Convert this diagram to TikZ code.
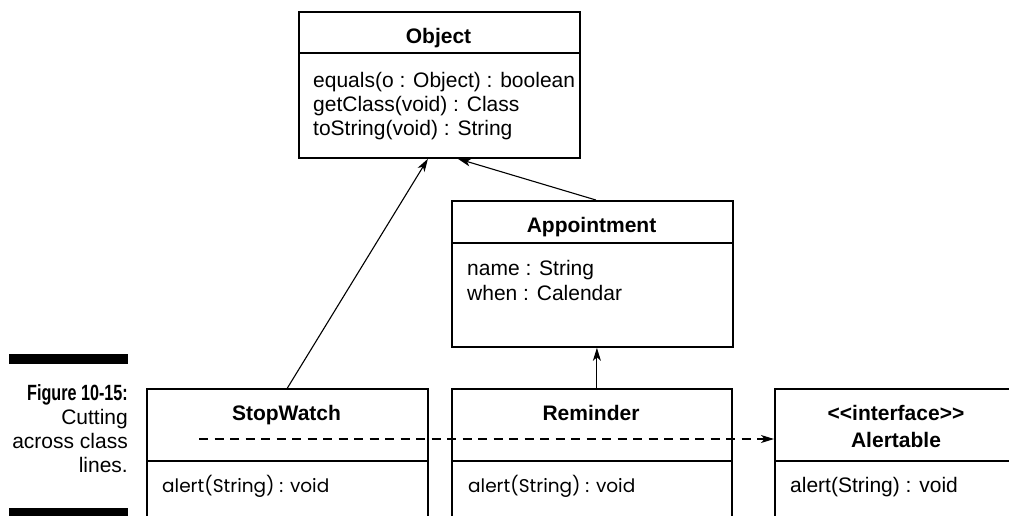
\documentclass[tikz,border=0pt]{standalone}
\usepackage{graphicx}
\usepackage{fontspec}
\setmainfont{Liberation Sans}[Ligatures=TeXOff]
\newfontfamily\handfont{Poppins}[Ligatures=TeXOff]
\usetikzlibrary{arrows.meta}
\begin{document}
\begin{tikzpicture}[x=1pt,y=-1pt,
  umlbox/.style={draw, line width=1.8pt, rectangle, anchor=north west, inner sep=0pt, minimum width=281pt},
  divider/.style={line width=1.6pt},
  title/.style={font=\bfseries\fontsize{21}{25}\selectfont, anchor=base, inner sep=0pt},
  member/.style={font=\fontsize{21}{25}\selectfont, anchor=base west, inner sep=0pt},
  hand/.style={font=\handfont\fontsize{18.5}{22}\selectfont, anchor=base west, inner sep=0pt},
  captxt/.style={font=\fontsize{21}{25}\selectfont, anchor=base east, inner sep=0pt},
  inherit/.style={-{Stealth[length=13pt,width=8pt,inset=3.5pt]}, line width=1.1pt},
  realize/.style={inherit, dash pattern=on 9pt off 6.5pt},
  capbar/.style={fill=black, draw=none}
]
\useasboundingbox (0,0) rectangle (1009,515);
\clip (0,0) rectangle (1009,515);

% boxes
\node[umlbox, minimum height=146pt] (obj) at (298,11) {};
\node[umlbox, minimum height=146pt] (app) at (451,200) {};
\node[umlbox, minimum height=170pt] (sw) at (146,388) {};
\node[umlbox, minimum width=280pt, minimum height=170pt] (rem) at (451,388) {};
\node[umlbox, minimum width=300pt, minimum height=170pt] (alt) at (774,388) {};

% dividers
\draw[divider] ([yshift=-42pt]obj.north west) -- ([yshift=-42pt]obj.north east);
\draw[divider] ([yshift=-43pt]app.north west) -- ([yshift=-43pt]app.north east);
\draw[divider] ([yshift=-73pt]sw.north west) -- ([yshift=-73pt]sw.north east);
\draw[divider] ([yshift=-73pt]rem.north west) -- ([yshift=-73pt]rem.north east);
\draw[divider] ([yshift=-73pt]alt.north west) -- ([yshift=-73pt]alt.north east);

% texts
\node[title] (objname) at (438.5,43) {Object};
\node[member] (objm1) at (313,87) {equals(o : Object) : boolean};
\node[member] (objm2) at (313,111) {getClass(void) : Class};
\node[member] (objm3) at (313,135) {toString(void) : String};

\node[title] (appname) at (591.5,232) {Appointment};
\node[member] (appa1) at (467,275) {name : String};
\node[member] (appa2) at (467,300) {when : Calendar};

\node[title] (swname) at (286.5,420) {StopWatch};
\node[hand] (swm) at (162,492) {alert(String) : void};

\node[title] (remname) at (591,420) {Reminder};
\node[hand] (remm) at (468,492) {alert(String) : void};

\node[title] (altst) at (896,420) {<<interface>>};
\node[title] (altname) at (896,447) {Alertable};
\node[member] (altm) at (790,492) {alert(String) : void};

% connectors
\draw[inherit] (sw.north) -- ([xshift=-11.5pt]obj.south);
\draw[inherit] ([xshift=3.5pt]app.north) -- ([xshift=18.5pt]obj.south);
\draw[inherit] ([xshift=5pt]rem.north) -- ([xshift=5pt]rem.north |- app.south);
\coordinate (dstart) at (199,439);
\draw[realize] (dstart) -- (dstart -| alt.west);

% caption
\fill[capbar] (9,354) rectangle (128,364);
\fill[capbar] (9,508) rectangle (128,520);
\node[captxt] (cap1) at (128,400) {\bfseries\scalebox{0.77}[1.05]{Figure 10-15:}};
\node[captxt] (cap2) at (128,424) {Cutting};
\node[captxt] (cap3) at (128,448) {across class};
\node[captxt] (cap4) at (128,472) {lines.};
\end{tikzpicture}
\end{document}
